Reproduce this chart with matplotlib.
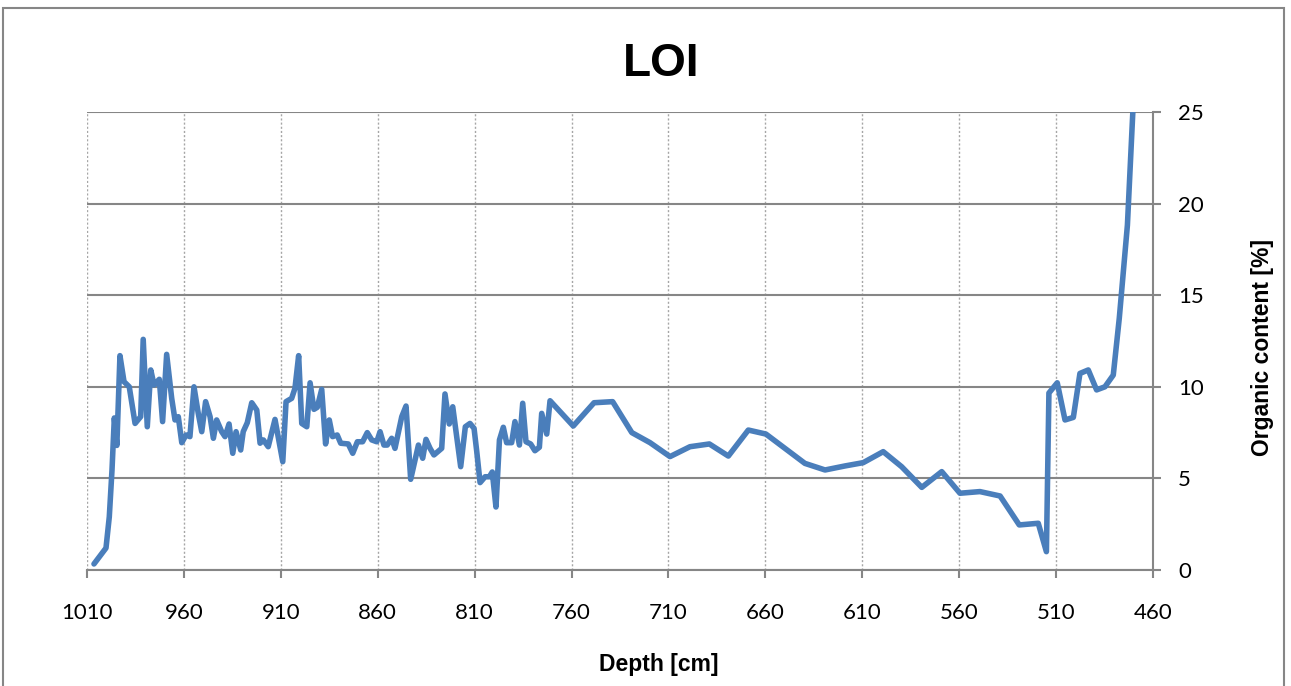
import matplotlib.pyplot as plt
from matplotlib.patches import Rectangle

# depth [cm] and loss-on-ignition [%]
depth = [1006.4, 1000.2, 998.5, 997.1, 995.9, 994.6, 993.0, 990.9, 988.2, 985.2,
         982.3, 981.0, 978.9, 977.1, 975.4, 972.7, 971.0, 968.9, 966.3, 964.6,
         962.9, 961.1, 958.9, 956.9, 954.8, 952.6, 950.8, 948.8, 946.5, 944.8,
         943.1, 940.5, 938.8, 936.7, 934.8, 933.1, 930.7, 929.4, 927.3, 925.0,
         922.4, 920.7, 919.0, 916.5, 913.0, 909.0, 907.3, 904.4, 902.7, 900.8,
         899.2, 896.6, 894.9, 892.9, 891.2, 888.9, 886.9, 885.0, 883.3, 880.9,
         879.1, 875.2, 872.9, 870.5, 867.8, 865.4, 863.1, 860.5, 858.8, 856.8,
         855.1, 852.8, 851.1, 847.6, 845.4, 843.0, 839.0, 836.8, 835.1, 833.0,
         831.0, 827.0, 825.3, 823.1, 821.3, 819.3, 817.2, 814.8, 812.4, 810.3,
         808.9, 807.2, 804.6, 802.4, 800.9, 799.0, 797.2, 795.2, 793.5, 790.9,
         789.2, 786.9, 785.2, 783.5, 781.1, 778.9, 776.6, 775.4, 772.8, 771.1,
         759.1, 748.4, 738.8, 728.9, 719.5, 709.2, 698.9, 688.9, 679.1, 668.8,
         659.7, 649.9, 639.6, 629.2, 618.9, 609.5, 599.2, 589.7, 579.3, 569.0,
         559.6, 549.3, 538.9, 529.0, 519.2, 515.0, 513.7, 509.4, 505.4, 501.1,
         497.7, 493.4, 489.1, 484.8, 480.5, 477.4, 473.2, 469.5]
loi = [0.33, 1.2, 2.9, 5.46, 8.3, 6.8, 11.7, 10.28, 10.0, 8.0,
       8.37, 12.59, 7.82, 10.92, 10.1, 10.41, 8.1, 11.77, 9.37, 8.19,
       8.37, 6.95, 7.37, 7.28, 10.0, 8.55, 7.55, 9.19, 8.37, 7.19,
       8.19, 7.55, 7.28, 7.97, 6.37, 7.55, 6.55, 7.55, 8.04, 9.13,
       8.73, 6.92, 7.1, 6.73, 8.22, 5.91, 9.19, 9.37, 9.92, 11.7,
       8.0, 7.82, 10.22, 8.77, 8.88, 9.86, 6.88, 8.19, 7.28, 7.37,
       6.92, 6.88, 6.37, 7.0, 7.0, 7.5, 7.1, 7.0, 7.55, 6.82,
       6.82, 7.19, 6.64, 8.37, 8.95, 4.95, 6.82, 6.1, 7.13, 6.64,
       6.28, 6.64, 9.61, 7.97, 8.91, 7.31, 5.64, 7.82, 8.0, 7.73,
       6.46, 4.77, 5.09, 5.09, 5.35, 3.44, 7.1, 7.79, 6.95, 6.95,
       8.1, 6.82, 9.1, 7.0, 6.88, 6.51, 6.7, 8.55, 7.42, 9.24,
       7.86, 9.13, 9.19, 7.5, 6.95, 6.19, 6.73, 6.88, 6.22, 7.64,
       7.42, 6.64, 5.82, 5.46, 5.68, 5.86, 6.46, 5.64, 4.51, 5.37,
       4.19, 4.28, 4.04, 2.46, 2.55, 1.0, 9.66, 10.22, 8.19, 8.33,
       10.73, 10.92, 9.83, 10.0, 10.64, 13.74, 18.83, 27.0]

xticks = list(range(1010, 459, -50))
yticks = [0, 5, 10, 15, 20, 25]

fig = plt.figure(figsize=(12.91, 6.86), dpi=100)
ax = fig.add_axes([87/1291, 1-570/686, (1153-87)/1291, (570-112)/686])

ax.plot(depth, loi, color='#4a7ebb', lw=4.0, solid_joinstyle='round',
        solid_capstyle='round', zorder=3)

ax.set_xlim(1010, 460)
ax.set_ylim(0, 25)
ax.set_xticks(xticks)
ax.set_yticks(yticks)

# grid: solid horizontal, dotted vertical
ax.yaxis.grid(True, color='#868686', lw=1.5, ls='-')
ax.xaxis.grid(True, color='#a6a6a6', lw=1.0, ls=(0, (1.5, 1.5)))
ax.set_axisbelow(True)

for s in ['top', 'left']:
    ax.spines[s].set_visible(False)
for s in ['bottom', 'right']:
    ax.spines[s].set_color('#868686')
    ax.spines[s].set_linewidth(1.5)

ax.yaxis.tick_right()
ax.yaxis.set_label_position('right')
ax.tick_params(axis='x', direction='out', length=6, width=1.5, color='#868686',
               pad=18, labelsize=16)
ax.tick_params(axis='y', direction='out', length=6, width=1.5, color='#868686',
               pad=12, labelsize=16)
for lab in ax.get_xticklabels() + ax.get_yticklabels():
    lab.set_fontfamily('Lato')

ax.set_xlabel('Depth [cm]', fontsize=16.5, fontweight='bold',
              fontfamily='Liberation Sans', va='center')
ax.xaxis.set_label_coords((659-87)/1066, (570-664)/458)
ax.set_ylabel('Organic content [%]', fontsize=16.5, fontweight='bold',
              fontfamily='Liberation Sans', va='center', rotation=90)
ax.yaxis.set_label_coords((1262-87)/1066, (570-348)/458)

fig.text(661/1291, 1-64/686, 'LOI', fontsize=33, fontweight='bold',
         fontfamily='Liberation Sans', ha='center', va='center')

# chart border
fig.patches.append(Rectangle((3/1291, -0.1), (1284-3)/1291, 1.1-8/686,
                             transform=fig.transFigure, fill=False,
                             edgecolor='#868686', lw=1.5))

plt.savefig('out.png', dpi=100)
